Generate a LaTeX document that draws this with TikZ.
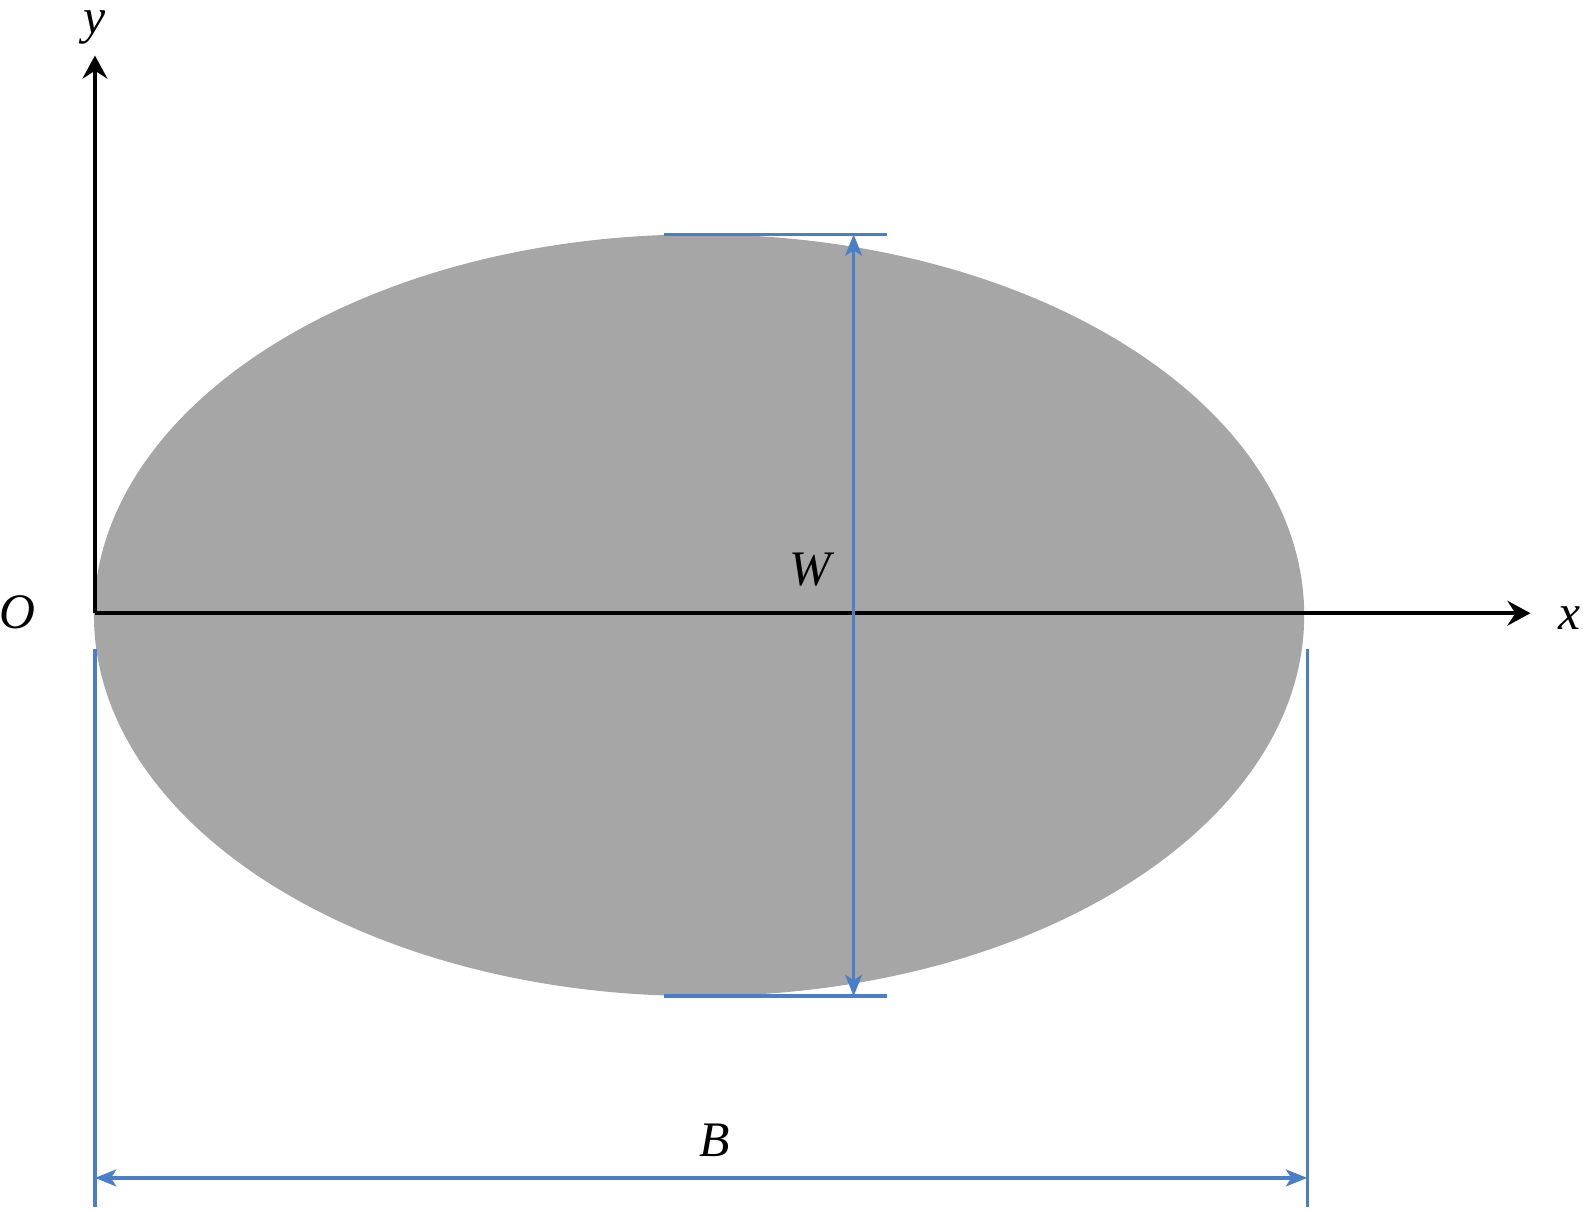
\documentclass[tikz,border=0pt]{standalone}
\usepackage{fontspec}
\setmainfont{Liberation Serif}
\usetikzlibrary{arrows.meta}
\definecolor{dimblue}{HTML}{4A7EC8}
\definecolor{ellgray}{HTML}{A6A6A6}
\tikzset{
	axis/.style={black,line width=2.4pt,-{Stealth[length=13pt,width=14pt,inset=4.5pt]}},
	dim/.style={dimblue,line width=1.9pt},
	dimarrow/.style={dim,{Stealth[length=12pt,width=9.5pt,inset=3pt]}-{Stealth[length=12pt,width=9.5pt,inset=3pt]}},
	lbl/.style={font=\fontsize{28}{32}\selectfont\itshape,inner sep=0pt}
}
\begin{document}
\begin{tikzpicture}[x=0.02cm,y=-0.02cm]
			\useasboundingbox (0,0) rectangle (1567,1196);
			\fill [ellgray] (692,609) ellipse (599 and 377);
			% axes
			\coordinate (O) at (94,607);
			\coordinate (ytip) at (94,55);
			\coordinate (xtip) at (1515,607);
			\draw [axis] (O) -- (ytip);
			\draw [axis] (O) -- (xtip);
			\node [lbl] (ylabel) at (94,27) {y};
			\node [lbl] (xlabel) at (1554,612) {x};
			\node [lbl] (olabel) at (17,606) {O};
			% W
			\coordinate (wt1) at (657,232);
			\coordinate (wt2) at (878,232);
			\coordinate (wb1) at (657,986);
			\coordinate (wb2) at (878,986);
			\coordinate (wtop) at (845,232);
			\coordinate (wbot) at (845,986);
			\draw [dim] (wt1) -- (wt2);
			\draw [dim] (wb1) -- (wb2);
			\draw [dimarrow] (wtop) -- (wbot);
			\node [lbl] (wlabel) at (802,564) {W};
			% B
			\coordinate (bl1) at (94,642);
			\coordinate (bl2) at (94,1195);
			\coordinate (br1) at (1294,642);
			\coordinate (br2) at (1294,1195);
			\coordinate (bleft) at (94,1166);
			\coordinate (bright) at (1294,1166);
			\draw [dim] (bl1) -- (bl2);
			\draw [dim] (br1) -- (br2);
			\draw [dimarrow] (bleft) -- (bright);
			\node [lbl] (blabel) at (707,1129) {B};
\end{tikzpicture}
\end{document}
